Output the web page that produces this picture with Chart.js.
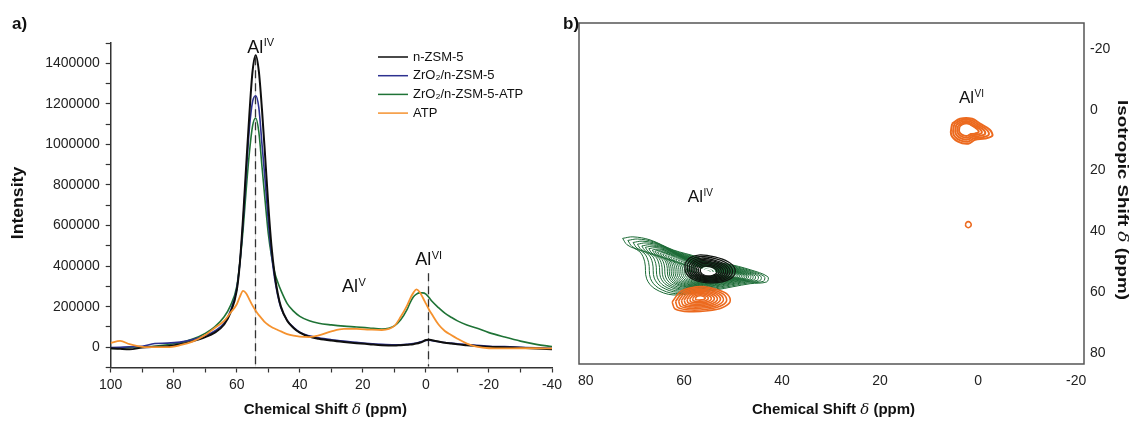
<!DOCTYPE html>
<html><head><meta charset="utf-8">
<script src="https://cdn.jsdelivr.net/npm/chart.js@4.4.1/dist/chart.umd.min.js"></script>
<style>
html,body{margin:0;padding:0;background:#fff;}
#wrap{position:relative;width:1131px;height:422px;overflow:hidden;background:#fff;}
canvas{position:absolute;left:0;top:0;}
</style></head><body>
<div id="wrap"><canvas id="ca" width="1131" height="422"></canvas><canvas id="cb" width="1131" height="422"></canvas></div>
<script>
// ---------- Panel a) : 1D 27Al MAS NMR ----------
const shiftPpm = [100,97,94,90,86,82,78,74,70,67, 64,62,60,59,58,57,56,55,54,53, 52,51,50,49,48,47,46,44,42,40, 37,34,30,26,22,18,14,10,8,6, 5,4,3,2,1,0,-1,-2,-4,-6, -8,-10,-13,-16,-20,-25,-30,-35,-40];
const nZsm5 = [-5000,-8000,-10000,-2000,2000,5000,15000,30000,50000,72000, 112000,170000,280000,420000,640000,900000,1150000,1360000,1440000,1360000, 1170000,940000,700000,500000,360000,265000,200000,130000,95000,72000, 52000,42000,33000,26000,20000,15000,10000,8000,10000,12000, 13000,15000,18000,22000,28000,36000,37000,34000,28000,22000, 18000,14000,10000,6000,2000,0,-3000,-6000,-10000];
const zrNZsm5 = [-2000,0,2000,5000,18000,20000,25000,38000,58000,80000, 120000,180000,290000,420000,620000,860000,1080000,1210000,1240000,1180000, 1000000,820000,620000,460000,340000,255000,195000,132000,98000,74000, 56000,46000,37000,30000,24000,18000,14000,12000,12000,14000, 16000,18000,21000,25000,29000,33000,34000,32000,27000,23000, 20000,17000,13000,9000,5000,3000,0,-3000,-5000];
const zrNZsm5Atp = [-6000,-5000,0,2000,5000,12000,22000,40000,68000,100000, 150000,205000,300000,420000,580000,780000,960000,1090000,1130000,1060000, 890000,720000,560000,450000,370000,320000,280000,215000,178000,152000, 130000,118000,110000,104000,100000,95000,90000,105000,135000,185000, 220000,248000,262000,268000,268000,262000,245000,225000,195000,168000, 148000,130000,110000,95000,72000,50000,30000,14000,3000];
const atp = [21000,31000,15000,2000,0,0,10000,28000,60000,95000, 130000,170000,212000,250000,278000,265000,235000,205000,180000,158000, 140000,122000,110000,100000,92000,85000,78000,65000,57000,52000, 50000,58000,78000,90000,90000,87000,85000,105000,150000,205000, 240000,268000,285000,272000,245000,215000,185000,160000,112000,80000, 60000,42000,18000,3000,-5000,-6000,-5000,-5000,-6000];
const seriesNames = ['n-ZSM-5','ZrO\u2082/n-ZSM-5','ZrO\u2082/n-ZSM-5-ATP','ATP'];
const xTicksA = [100,80,60,40,20,0,-20,-40];
const xTickLabelsA = ['100','80','60','40','20','0','-20','-40'];
const yTicksA = [0,200000,400000,600000,800000,1000000,1200000,1400000];
const yTickLabelsA = ['0','200000','400000','600000','800000','1000000','1200000','1400000'];
const peakLabelsA = [[56.7,1452000,'IV'],[26.6,271600,'V'],[3.4,405000,'VI']];
const dashMarkersA = [[54.2,1430000],[-0.6,365000]];

// ---------- Panel b) : 2D MQMAS contours ----------
const xTicksB = [80,60,40,20,0,-20];
const xTickLabelsB = ['80','60','40','20','0','-20'];
const yTicksB = [-20,0,20,40,60,80];
const yTickLabelsB = ['-20','0','20','40','60','80'];
const greenOutline = [[72.5,42.3],[70.4,41.8],[66.9,42.8],[62.2,46.1],[57.3,48.4],[55.3,50.0],[51.2,50.7],[46.5,52.6],[42.9,54.9],[43.1,56.6],[46.5,57.2],[50.0,58.2],[53.3,59.2],[56.7,59.9],[62.2,60.9],[65.9,58.9],[67.6,55.6],[68.0,50.0],[69.0,46.7],[71.6,44.4]];
const greenCenter = [54.7,53.6];
const greenLevels = [1,0.94,0.88,0.83,0.78,0.74,0.70,0.66,0.63,0.60,0.57,0.54,0.51,0.48,0.45,0.42,0.39,0.36,0.33,0.30,0.27,0.24,0.21,0.18];
const blackOutline = [[59.8,50.7],[58.8,48.7],[56.7,47.7],[53.7,48.4],[51.0,50.0],[49.6,52.3],[50.0,54.9],[52.2,56.6],[55.1,56.9],[58.0,55.9],[59.6,53.6]];
const blackCenter = [55.1,53.3];
const blackLevels = [1,0.9,0.81,0.73,0.65,0.57,0.49,0.41,0.33];
const blackEyeLevels = [0.24,0.14];
const orangeOutlineIV = [[62.4,63.2],[61.8,65.5],[58.8,66.4],[55.1,66.1],[52.2,65.1],[50.6,63.2],[51.0,60.9],[53.1,59.2],[55.7,58.2],[58.8,58.6],[60.8,59.9]];
const orangeCenterIV = [56.7,61.8];
const orangeLevelsIV = [1,0.88,0.77,0.67,0.57,0.47,0.37,0.27,0.17];
const orangeOutlineVI = [[5.3,4.6],[3.7,3.0],[1.2,3.0],[-0.4,4.6],[-2.4,6.6],[-2.9,8.6],[-1.4,9.5],[0.6,9.9],[2.0,11.2],[4.1,10.5],[5.5,8.2]];
const orangeCenterVI = [2.4,6.3];
const orangeLevelsVI = [1,0.86,0.72,0.59,0.47];
const orangeEyeLevelsVI = [0.32,0.2];
const orangeSmallSpot = [[2.6,37.8],[2.4,37.1],[2.0,36.8],[1.6,37.1],[1.4,37.8],[1.6,38.5],[2.0,38.8],[2.4,38.5]];
const peakLabelsB = [[59.2,30.3,'IV'],[3.9,-2.3,'VI']];

const FONT = "'Liberation Sans', Arial, Helvetica, sans-serif";
const COLORS_A = ['#0e0e0e','#2d3190','#1f7336','#f5922f'];

function pairs(xs, ys){ return xs.map((x,i)=>({x:x, y:ys[i]})); }

function supText(ctx, x, y, base, sup, size, supSize){
  ctx.save();
  ctx.fillStyle = '#111';
  ctx.textAlign = 'left'; ctx.textBaseline = 'alphabetic';
  ctx.font = size + 'px ' + FONT;
  ctx.fillText(base, x, y);
  const w = ctx.measureText(base).width;
  ctx.font = supSize + 'px ' + FONT;
  ctx.fillText(sup, x + w + 0.5, y - size*0.36);
  ctx.restore();
}
function mixedTitle(ctx, parts, cx, cy, rot, stretch){
  ctx.save();
  ctx.translate(cx, cy); if (rot) ctx.rotate(rot);
  if (stretch) ctx.scale(stretch, 1);
  ctx.fillStyle = '#111'; ctx.textBaseline = 'middle'; ctx.textAlign = 'left';
  let total = 0;
  parts.forEach(p => { ctx.font = p[1]; p.w = ctx.measureText(p[0]).width; total += p.w; });
  let xx = -total/2;
  parts.forEach(p => { ctx.font = p[1]; ctx.fillText(p[0], xx, 0); xx += p.w; });
  ctx.restore();
}
const BOLD15 = 'bold 15px ' + FONT;
const DELTA = 'italic 15px "DejaVu Serif", "Liberation Serif", serif';

const decoA = {
  id: 'decoA',
  beforeDatasetsDraw(chart){
    const {ctx, scales:{x, y}} = chart;
    ctx.save();
    dashMarkersA.forEach(([ppm, top]) => {
      const px = Math.round(x.getPixelForValue(ppm)) + 0.5;
      const y0 = y.getPixelForValue(top), y1 = y.getPixelForValue(-95000);
      ctx.strokeStyle = '#dcdcdc'; ctx.lineWidth = 1; ctx.setLineDash([]);
      ctx.beginPath(); ctx.moveTo(px, y0); ctx.lineTo(px, y1); ctx.stroke();
      ctx.strokeStyle = '#333'; ctx.lineWidth = 1.3; ctx.setLineDash([8,5]);
      ctx.beginPath(); ctx.moveTo(px, y0); ctx.lineTo(px, y1); ctx.stroke();
    });
    ctx.restore();
  },
  afterDatasetsDraw(chart){
    const {ctx, scales:{x, y}, chartArea} = chart;
    peakLabelsA.forEach(([ppm, v, s]) => supText(ctx, x.getPixelForValue(ppm), y.getPixelForValue(v), 'Al', s, 18, 11));
    ctx.save();
    const lx = 378, ly = 57, dy = 18.7;
    chart.data.datasets.forEach((ds, i) => {
      const yy = ly + i*dy;
      ctx.strokeStyle = ds.borderColor; ctx.lineWidth = 1.5;
      ctx.beginPath(); ctx.moveTo(lx, yy); ctx.lineTo(lx+30, yy); ctx.stroke();
      ctx.fillStyle = '#111'; ctx.font = '13px ' + FONT; ctx.textBaseline = 'middle'; ctx.textAlign='left';
      ctx.fillText(ds.label, lx + 35, yy);
    });
    ctx.font = 'bold 17px ' + FONT; ctx.textBaseline = 'alphabetic';
    ctx.fillText('a)', 12, 29);
    ctx.restore();
    mixedTitle(ctx, [['Chemical Shift ', BOLD15], ['\u03B4', DELTA], [' (ppm)', BOLD15]], (chartArea.left+chartArea.right)/2 - 6, 410);
    mixedTitle(ctx, [['Intensity', 'bold 16px ' + FONT]], 19, 203, -Math.PI/2, 1.1);
  }
};

const chartA = new Chart(document.getElementById('ca'), {
  type: 'scatter',
  data: {
    datasets: [nZsm5, zrNZsm5, zrNZsm5Atp, atp].map((vals, i) => ({
      label: seriesNames[i],
      data: pairs(shiftPpm, vals),
      borderColor: COLORS_A[i],
      borderWidth: i === 0 ? 2 : (i === 3 ? 1.8 : 1.6),
      showLine: true, pointRadius: 0, cubicInterpolationMode: 'monotone', fill: false,
      order: [1,2,3,0][i]
    }))
  },
  options: {
    responsive: false, animation: false, events: [],
    layout: {padding: {left: 0, top: 43, right: 579, bottom: 0}},
    plugins: {legend: {display: false}, tooltip: {enabled: false}},
    scales: {
      x: {
        type: 'linear', reverse: true, min: -40, max: 100,
        afterBuildTicks: s => { const t = []; for (let v = 100; v >= -40; v -= 10) t.push({value: v}); s.ticks = t; },
        afterFit: s => { s.height = 54.5; },
        ticks: {autoSkip: false, maxRotation: 0, padding: 4, color: '#222', font: {family: FONT, size: 14},
          callback: v => { const k = xTicksA.indexOf(v); return k >= 0 ? xTickLabelsA[k] : ''; }},
        grid: {drawOnChartArea: false, tickLength: 5, tickColor: '#333', tickWidth: 1.2},
        border: {color: '#333', width: 1.5}
      },
      y: {
        type: 'linear', min: -100000, max: 1500000,
        afterBuildTicks: s => { const t = []; for (let v = -100000; v <= 1500000; v += 100000) t.push({value: v}); s.ticks = t; },
        afterFit: s => { s.width = 110.7; },
        ticks: {autoSkip: false, padding: 6, color: '#222', font: {family: FONT, size: 14},
          callback: v => { const k = yTicksA.indexOf(v); return k >= 0 ? yTickLabelsA[k] : ''; }},
        grid: {drawOnChartArea: false, tickLength: 5, tickColor: '#333', tickWidth: 1.2},
        border: {color: '#333', width: 1.5}
      }
    }
  },
  plugins: [decoA]
});

// ---------- panel b ----------
function contourSets(outline, center, levels, color, width, order){
  return levels.map(f => {
    const pts = outline.map(([x, y]) => ({x: center[0] + (x-center[0])*f, y: center[1] + (y-center[1])*f}));
    pts.push(pts[0]);
    return {data: pts, borderColor: color, borderWidth: width, showLine: true, pointRadius: 0, tension: 0.35, fill: false, order: order};
  });
}
const GREEN_B = '#1c6b36', BLACK_B = '#101510', ORANGE_B = '#ec6a1f';
const datasetsB = [].concat(
  contourSets(orangeOutlineVI, orangeCenterVI, orangeEyeLevelsVI, '#ffffff', 1.8, 0),
  contourSets(orangeOutlineVI, orangeCenterVI, orangeLevelsVI, ORANGE_B, 2, 1),
  contourSets(orangeSmallSpot, [2.0,37.8], [1], ORANGE_B, 1.6, 1),
  contourSets(orangeOutlineIV, orangeCenterIV, orangeLevelsIV, ORANGE_B, 1.6, 1),
  contourSets(blackOutline, blackCenter, blackEyeLevels, '#ffffff', 1.6, 2),
  contourSets(blackOutline, blackCenter, blackLevels, BLACK_B, 1.3, 3),
  contourSets(greenOutline, greenCenter, greenLevels, GREEN_B, 1, 4)
);

const decoB = {
  id: 'decoB',
  afterDatasetsDraw(chart){
    const {ctx, scales:{x, y}, chartArea: ca} = chart;
    ctx.save();
    ctx.strokeStyle = '#555'; ctx.lineWidth = 1.5;
    ctx.strokeRect(ca.left, ca.top, ca.right - ca.left, ca.bottom - ca.top);
    ctx.fillStyle = '#111'; ctx.font = 'bold 17px ' + FONT; ctx.textBaseline = 'alphabetic'; ctx.textAlign = 'left';
    ctx.fillText('b)', 563, 29);
    ctx.restore();
    peakLabelsB.forEach(([px, py, s]) => supText(ctx, x.getPixelForValue(px), y.getPixelForValue(py), 'Al', s, 17, 10));
    mixedTitle(ctx, [['Chemical Shift ', BOLD15], ['\u03B4', DELTA], [' (ppm)', BOLD15]], (ca.left+ca.right)/2 + 2, 410);
    mixedTitle(ctx, [['Isotropic Shift ', BOLD15], ['\u03B4', DELTA], [' (ppm)', BOLD15]], 1122, 200, Math.PI/2, 1.25);
  }
};

const chartB = new Chart(document.getElementById('cb'), {
  type: 'scatter',
  data: {datasets: datasetsB},
  options: {
    responsive: false, animation: false, events: [],
    layout: {padding: {left: 579, top: 23, right: 0, bottom: 0}},
    plugins: {legend: {display: false}, tooltip: {enabled: false}},
    scales: {
      x: {
        type: 'linear', reverse: true, min: -21.6, max: 81.4,
        afterBuildTicks: s => { s.ticks = xTicksB.map(v => ({value: v})); },
        afterFit: s => { s.height = 58; },
        ticks: {autoSkip: false, maxRotation: 0, padding: 9, color: '#222', font: {family: FONT, size: 14},
          callback: v => { const k = xTicksB.indexOf(v); return k >= 0 ? xTickLabelsB[k] : ''; }},
        grid: {display: false, drawTicks: false}, border: {display: false}
      },
      y: {
        type: 'linear', position: 'right', reverse: true, min: -28.5, max: 83.6,
        afterBuildTicks: s => { s.ticks = yTicksB.map(v => ({value: v})); },
        afterFit: s => { s.width = 47; },
        ticks: {autoSkip: false, padding: 6, color: '#222', font: {family: FONT, size: 14},
          callback: v => { const k = yTicksB.indexOf(v); return k >= 0 ? yTickLabelsB[k] : ''; }},
        grid: {display: false, drawTicks: false}, border: {display: false}
      }
    }
  },
  plugins: [decoB]
});
</script>
</body></html>
